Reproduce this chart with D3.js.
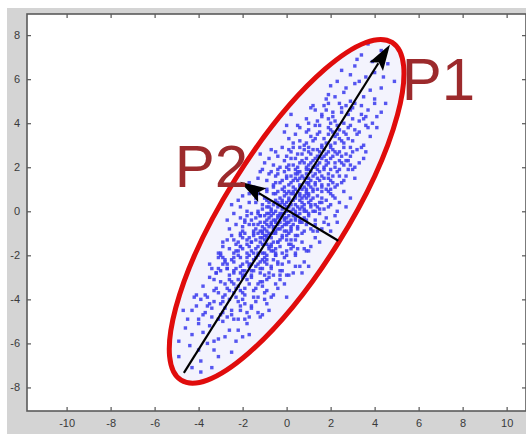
<!DOCTYPE html>
<html>
<head>
<meta charset="utf-8">
<script src="https://cdn.jsdelivr.net/npm/d3@7"></script>
<style>
  html, body { margin: 0; padding: 0; background: #fff; }
  svg { display: block; }
  .tick text { font-family: "Liberation Sans", Arial, sans-serif; font-size: 11px; fill: #3a3a3a; }
</style>
</head>
<body>
<svg id="chart" width="526" height="434"></svg>
<script>
// graduations des axes
var xTicks = [-10, -8, -6, -4, -2, 0, 2, 4, 6, 8, 10];
var yTicks = [-8, -6, -4, -2, 0, 2, 4, 6, 8];

// ellipse de confiance : centre, demi-axes, angle (degres)
var ellCenter = [0, 0];
var ellAxes = [9.05, 2.75];
var ellAngle = 58;

// composantes principales (depart -> pointe)
var arrows = [
  { name: 'P1', from: [-4.67, -7.34], to: [4.7, 7.57], label: [5.23, 5.05] },
  { name: 'P2', from: [2.35, -1.34], to: [-2.12, 1.34], label: [-5.08, 1.11] }
];

// nuage de points (par tranches de y)
var points = [
  // 7 < y < 8
  [3.7,7.6],[4.3,7.3],[3.4,7.1],
  // 6 < y < 7
  [2.5,6.4],[3.9,6.8],[4.4,6.1],[3.1,6.6],[2.9,6.2],[4.0,6.3],[4.6,6.7],[3.2,6.9],[3.6,6.1],
  // 5 < y < 6
  [2.0,5.7],[3.5,5.2],[4.9,5.9],[2.6,5.4],[3.1,5.8],[1.8,5.1],[3.8,5.5],[2.3,5.9],[4.3,5.6],[2.9,5.0],[3.3,5.9],[4.0,5.1],
  [1.9,5.3],[2.7,5.6],[2.2,5.2],
  // 4 < y < 5
  [1.3,4.6],[2.2,4.1],[3.4,4.8],[2.8,4.4],[1.9,4.9],[4.1,4.3],[2.5,4.7],[3.0,4.2],[1.6,4.3],[2.1,4.5],[3.7,4.6],
  [2.6,4.0],[0.9,4.2],[3.3,4.1],[2.4,4.9],[1.7,4.8],[4.5,4.9],[2.9,4.6],[1.1,4.7],[3.6,4.3],[2.0,4.0],[3.1,4.9],
  [0.2,4.4],[3.9,4.0],[1.4,4.1],[2.7,4.8],[4.3,4.5],[2.1,4.3],[3.4,4.4],[1.0,4.0],[1.8,4.6],[2.5,4.5],[3.0,4.7],
  [4.0,4.9],[1.6,4.4],[3.5,4.2],[1.2,4.8],[1.9,4.2],
  // 3 < y < 4
  [0.4,3.5],[1.2,3.2],[1.9,3.8],[2.6,3.1],[3.3,3.6],[1.5,3.9],[2.2,3.4],[0.8,3.0],[2.9,3.9],[1.7,3.3],[2.4,3.7],
  [3.8,3.4],[1.0,3.7],[2.0,3.0],[3.0,3.2],[1.4,3.5],[2.7,3.5],[0.1,3.3],[1.8,3.1],[2.3,3.9],[3.5,3.0],[1.1,3.4],
  [2.1,3.6],[4.1,3.8],[0.6,3.8],[1.6,3.0],[2.8,3.3],[1.3,3.9],[2.5,3.2],[3.1,3.7],[0.9,3.1],[1.9,3.5],[3.6,3.9],
  [2.2,3.1],[0.0,3.9],[0.5,3.9],[3.2,3.5],[1.5,3.6],[2.4,3.3],[0.9,3.6],[2.8,3.8],[-0.1,3.6],[3.7,3.8],[1.3,3.3],
  [0.6,3.2],[2.0,3.7],[2.3,3.5],[0.3,3.1],[2.6,3.6],
  // 2 < y < 3
  [1.4,2.5],[0.6,2.2],[2.1,2.8],[1.0,2.9],[1.8,2.1],[2.7,2.6],[0.2,2.7],[1.3,2.0],[2.4,2.3],[0.9,2.4],
  [1.6,2.9],[3.2,2.8],[-0.4,2.5],[1.1,2.6],[2.0,2.4],[0.5,2.0],[1.5,2.2],[2.9,2.1],[0.8,2.8],[1.9,2.7],
  [-0.1,2.3],[1.2,2.3],[2.2,2.0],[0.3,2.9],[1.7,2.5],[2.6,2.9],[0.7,2.6],[1.4,2.1],[3.5,2.4],[1.0,2.1],
  [2.3,2.6],[0.0,2.0],[1.6,2.4],[2.8,2.3],[0.4,2.4],[1.2,2.8],[2.0,2.9],[-0.7,2.8],[1.8,2.3],[0.9,2.0],
  [2.5,2.2],[1.5,2.7],[0.1,2.1],[3.0,2.7],[1.3,2.4],[2.1,2.5],[0.6,2.9],[1.7,2.0],[2.4,2.7],[1.1,2.2],
  [-1.0,2.2],[2.9,2.5],[3.3,2.2],[0.5,2.6],[1.9,2.2],[0.2,2.4],[2.2,2.7],[-0.3,2.0],[-0.8,2.4],[1.7,2.8],
  [0.1,2.8],[3.4,2.9],[1.5,2.5],[0.8,2.2],[2.6,2.1],[-0.5,2.7],[1.8,2.6],[2.9,2.9],[1.0,2.7],[0.3,2.1],
  [2.7,2.3],[1.2,2.0],[3.6,2.7],[0.0,2.5],[-0.2,2.9],[2.5,2.5],[0.7,2.3],[1.4,2.8],[-1.2,2.6],[3.1,2.0],
  [2.2,2.2],[-0.6,2.1],
  // 1 < y < 2
  [0.8,1.5],[0.1,1.2],[1.5,1.8],[-0.5,1.6],[1.1,1.1],[2.0,1.4],[0.4,1.9],[1.3,1.3],[-0.2,1.0],[0.9,1.7],
  [2.4,1.9],[0.6,1.2],[1.7,1.5],[-0.9,1.4],[0.2,1.6],[1.0,1.9],[2.2,1.1],[0.5,1.4],[1.4,1.0],[-0.4,1.9],
  [0.7,1.0],[1.9,1.7],[0.0,1.5],[1.2,1.6],[2.7,1.6],[0.3,1.1],[1.6,1.2],[-1.2,1.8],[0.9,1.3],[1.8,1.0],
  [0.4,1.7],[1.1,1.4],[-0.1,1.8],[2.1,1.6],[0.6,1.5],[1.4,1.9],[-0.6,1.1],[0.8,1.1],[1.6,1.6],[0.2,1.3],
  [2.5,1.3],[1.0,1.2],[-0.3,1.3],[0.5,1.8],[1.3,1.7],[3.0,1.9],[0.1,1.9],[1.9,1.2],[0.7,1.6],[-0.8,1.7],
  [1.2,1.0],[0.3,1.4],[2.3,1.8],[0.9,1.9],[1.5,1.4],[-0.1,1.1],[0.6,1.8],[1.7,1.9],[1.0,1.5],[0.4,1.0],
  [2.0,1.0],[-0.5,1.3],[0.0,1.6],[-0.6,1.2],[2.6,1.4],[-1.3,1.5],[3.1,1.5],[1.4,1.5],[2.8,1.9],[-1.5,1.1],
  [2.4,1.6],[1.1,1.8],[-0.2,1.4],[2.0,1.9],[-0.9,1.0],[1.3,1.2],[0.4,1.5],[2.1,1.3],[-1.1,1.9],[0.9,1.0],
  [-0.4,1.7],[2.3,1.2],[1.6,1.1],[-0.7,1.8],[0.6,1.1],[-1.7,1.3],[1.9,1.5],[0.5,1.7],[1.0,1.3],
  // 0 < y < 1
  [0.3,0.5],[-0.4,0.2],[1.0,0.8],[-1.0,0.6],[0.6,0.1],[1.5,0.4],[-0.1,0.9],[0.8,0.3],[-0.7,0.0],[0.4,0.7],
  [1.9,0.9],[0.1,0.2],[1.2,0.6],[-1.4,0.4],[-0.3,0.6],[0.5,0.9],[1.7,0.1],[0.0,0.4],[0.9,0.0],[-0.9,0.9],
  [0.2,0.0],[1.4,0.7],[-0.5,0.5],[0.7,0.6],[2.2,0.6],[-0.2,0.1],[1.1,0.2],[-1.7,0.8],[0.4,0.3],[1.3,0.0],
  [-0.1,0.7],[0.6,0.5],[-0.6,0.8],[1.6,0.6],[0.1,0.5],[0.9,0.9],[-1.1,0.1],[0.3,0.1],[1.1,0.5],[-0.3,0.3],
  [2.0,0.3],[0.5,0.2],[-0.8,0.4],[0.0,0.8],[0.8,0.7],[2.6,0.9],[-0.4,0.9],[1.3,0.3],[0.2,0.8],[-1.3,0.0],
  [0.7,0.2],[-0.2,0.4],[1.8,0.5],[0.4,0.0],[-0.6,0.3],[1.0,0.4],[0.1,0.6],[-0.9,0.2],[0.6,0.8],[1.5,0.1],
  [-0.1,0.3],[0.9,0.6],[-2.0,0.7],[0.3,0.9],[1.2,0.9],[-0.5,0.0],[0.8,0.1],[0.0,0.2],
  [-1.6,0.9],[0.2,0.3],[-2.1,0.2],[2.4,0.4],[0.6,0.7],[1.4,0.2],[-0.9,0.5],[2.7,0.2],[1.6,0.9],[-1.4,0.6],
  [1.2,0.0],[-0.5,0.8],[0.0,0.0],[-2.2,0.5],[0.7,0.4],[0.3,0.8],[-0.8,0.2],[2.1,0.7],[-1.8,0.0],[-0.2,0.5],
  [0.8,0.0],[-1.1,0.3],[1.9,0.2],[0.1,0.9],[2.9,0.6],[-1.3,0.8],[-0.4,0.4],[1.0,0.7],[-0.7,0.1],[2.3,0.0],
  [1.6,0.4],[0.4,0.6],[-2.5,0.3],[1.1,0.3],[2.0,0.8],[0.9,0.8],[-1.7,0.4],
  // -1 < y < 0
  [-0.3,-0.5],[0.5,-0.2],[-1.1,-0.7],[0.9,-0.6],[-0.6,-0.1],[-1.6,-0.4],[0.2,-0.9],[-0.8,-0.3],[0.6,-0.1],[-0.4,-0.8],
  [-2.0,-0.9],[0.0,-0.3],[-1.2,-0.5],[1.3,-0.4],[0.3,-0.6],[-0.5,-0.9],[-1.8,-0.2],[-0.1,-0.4],[-0.9,-0.1],[0.8,-0.9],
  [-0.2,-0.1],[-1.4,-0.8],[0.4,-0.4],[-0.7,-0.6],[-2.3,-0.6],[0.1,-0.2],[-1.0,-0.2],[1.6,-0.8],[-0.4,-0.3],[-1.3,-0.1],
  [0.2,-0.7],[-0.6,-0.4],[0.7,-0.5],[-0.1,-0.9],[-0.9,-0.9],[-1.7,-0.6],[1.0,-0.1],[-0.3,-0.8],[-1.2,-0.2],[0.3,-0.2],
  [-2.1,-0.3],[-0.5,-0.5],[0.5,-0.8],[-0.8,-0.7],[0.0,-0.6],[-1.5,-0.9],[1.9,-0.6],[-0.2,-0.7],[-1.0,-0.5],[0.4,-0.1],
  [-0.7,-0.2],[-1.4,-0.3],[0.8,-0.3],[-0.4,-0.6],[0.1,-0.5],[-1.1,-0.9],[-2.6,-0.8],[-0.6,-0.8],[0.6,-0.4],[-0.1,-0.1],
  [-0.9,-0.4],[1.2,-0.9],[-1.9,-0.5],[-0.3,-0.2],[0.2,-0.4],[-0.8,-0.1],[-1.3,-0.6],[0.0,-0.9],
  [1.8,-0.3],[-0.7,-0.5],[1.1,-0.8],[-1.2,-0.2],[2.0,-0.9],[-0.3,-0.1],[-1.9,-0.4],[0.9,-0.4],[-0.1,-0.6],[-2.4,-0.1],
  [0.4,-0.3],[2.2,-0.2],[-1.0,-0.8],[1.7,-0.5],[-0.4,-0.2],[2.3,-0.5],[-1.5,-0.6],[1.0,-0.2],[0.5,-0.7],[1.5,-0.1],
  [-2.7,-0.4],[-0.6,-0.7],[1.3,-0.6],[0.6,-0.5],[-2.0,-0.7],[-1.6,-0.1],[0.2,-0.8],[-0.9,-0.6],[-0.1,-0.3],[-1.2,-0.9],
  [-0.5,-0.4],[1.4,-0.9],[0.0,-0.5],
  // -2 < y < -1
  [-0.9,-1.5],[-0.2,-1.2],[-1.6,-1.8],[0.3,-1.6],[-1.0,-1.1],[-2.2,-1.4],[-0.5,-1.9],[-1.4,-1.3],[0.1,-1.0],[-0.8,-1.7],
  [-2.4,-1.9],[-0.7,-1.2],[-1.8,-1.5],[0.7,-1.4],[-0.3,-1.6],[-1.1,-1.9],[-2.1,-1.1],[-0.4,-1.4],[-1.5,-1.0],[0.4,-1.9],
  [-0.6,-1.0],[-2.0,-1.7],[0.1,-1.5],[-1.3,-1.6],[-2.9,-1.6],[-0.2,-1.1],[-1.7,-1.2],[1.0,-1.8],[-1.0,-1.3],[-1.9,-1.0],
  [-0.5,-1.7],[-1.2,-1.4],[0.0,-1.8],[-2.1,-1.6],[-0.7,-1.5],[-1.5,-1.9],[0.5,-1.1],[-0.9,-1.1],[-1.7,-1.6],[-0.3,-1.3],
  [-2.7,-1.3],[-1.1,-1.2],[0.2,-1.3],[-0.6,-1.8],[-1.4,-1.7],[-3.1,-1.9],[-0.2,-1.9],[-2.0,-1.2],[-0.8,-1.6],[0.8,-1.7],
  [-1.3,-1.0],[-0.4,-1.4],[-2.3,-1.8],[-1.0,-1.9],[-1.6,-1.4],[0.0,-1.1],[-0.7,-1.8],[-1.8,-1.9],[-1.1,-1.5],[-0.5,-1.0],
  [-2.1,-1.0],[0.4,-1.3],
  [0.2,-1.7],[0.4,-1.1],[-2.4,-1.3],[1.1,-1.6],[-2.9,-1.4],[-1.6,-1.4],[-0.9,-1.2],[1.3,-1.2],[-2.6,-1.7],[-1.3,-1.9],
  [0.0,-1.3],[-2.2,-1.8],[0.7,-1.0],[-1.5,-1.1],[-0.6,-1.4],[-2.3,-1.5],[0.9,-1.8],[-1.1,-1.0],[0.2,-1.5],[-2.5,-1.1],
  [-1.8,-1.3],[0.5,-1.7],[-0.8,-1.0],[1.5,-1.4],[-2.1,-1.6],[-3.0,-1.9],[-0.7,-1.6],[-1.2,-1.2],
  // -3 < y < -2
  [-1.4,-2.5],[-0.6,-2.2],[-2.1,-2.8],[-1.0,-2.9],[-1.8,-2.1],[-2.7,-2.6],[-0.2,-2.7],[-1.3,-2.0],[-2.4,-2.3],[-0.9,-2.4],
  [-1.6,-2.9],[-3.2,-2.8],[0.4,-2.5],[-1.1,-2.6],[-2.0,-2.4],[-0.5,-2.0],[-1.5,-2.2],[-2.9,-2.1],[-0.8,-2.8],[-1.9,-2.7],
  [0.1,-2.3],[-1.2,-2.3],[-2.2,-2.0],[-0.3,-2.9],[-1.7,-2.5],[-2.6,-2.9],[-0.7,-2.6],[-1.4,-2.1],[-3.5,-2.4],[-1.0,-2.1],
  [-2.3,-2.6],[0.0,-2.0],[-1.6,-2.4],[-2.8,-2.3],[-0.4,-2.4],[-1.2,-2.8],[-2.0,-2.9],[0.7,-2.8],[-1.8,-2.3],[-0.9,-2.0],
  [-2.5,-2.2],[-1.5,-2.7],[-0.1,-2.1],[-3.0,-2.7],[-1.3,-2.4],[-2.1,-2.5],[-0.6,-2.9],[-1.7,-2.0],[-2.4,-2.7],[-1.1,-2.2],
  [0.8,-2.3],[-2.7,-2.6],[-3.1,-2.1],[-0.7,-2.5],[-2.1,-2.1],[-0.4,-2.3],[-2.4,-2.8],[0.1,-2.9],[-3.0,-2.0],[0.6,-2.5],
  [-1.9,-2.9],[-0.3,-2.7],[-3.2,-2.8],[-1.7,-2.4],[-1.0,-2.3],[-2.8,-2.2],[0.3,-2.8],[-2.0,-2.7],[-3.1,-2.6],[-1.2,-2.6],
  [-0.5,-2.0],[-2.9,-2.4],[-1.4,-2.1],[-3.4,-2.6],[-0.2,-2.4],[0.0,-2.9],[-2.7,-2.4],[-0.9,-2.2],[-1.6,-2.7],[1.0,-2.5],
  [-2.4,-2.1],[0.4,-2.0],
  // -4 < y < -3
  [-0.4,-3.5],[-1.2,-3.2],[-1.9,-3.8],[-2.6,-3.1],[-3.3,-3.6],[-1.5,-3.9],[-2.2,-3.4],[-0.8,-3.0],[-2.9,-3.9],[-1.7,-3.3],
  [-2.4,-3.7],[-3.8,-3.4],[-1.0,-3.7],[-2.0,-3.0],[-3.0,-3.2],[-1.4,-3.5],[-2.7,-3.5],[-0.1,-3.3],[-1.8,-3.1],[-2.3,-3.9],
  [-3.5,-3.0],[-1.1,-3.4],[-2.1,-3.6],[-4.1,-3.8],[-0.6,-3.8],[-1.6,-3.0],[-2.8,-3.3],[-1.3,-3.9],[-2.5,-3.2],[-3.1,-3.7],
  [-0.9,-3.1],[-1.9,-3.5],[-3.6,-3.9],[-2.2,-3.1],[0.0,-3.9],
  [-0.5,-3.3],[-0.7,-3.9],[-3.2,-3.5],[-1.5,-3.6],[-2.4,-3.3],[-0.9,-3.6],[-2.8,-3.8],[-3.7,-3.8],[-1.3,-3.3],[-0.3,-3.1],
  [-2.0,-3.7],[-2.3,-3.5],[-2.6,-3.6],[-4.2,-3.9],[-3.3,-3.1],[-1.1,-3.2],
  // -5 < y < -4
  [-1.3,-4.6],[-2.2,-4.1],[-3.4,-4.8],[-2.8,-4.4],[-1.9,-4.9],[-4.1,-4.3],[-2.5,-4.7],[-3.0,-4.2],[-1.6,-4.3],[-2.1,-4.5],
  [-3.7,-4.6],[-2.6,-4.0],[-0.9,-4.2],[-3.3,-4.1],[-2.4,-4.9],[-1.7,-4.8],[-4.5,-4.9],[-2.9,-4.6],[-1.1,-4.7],[-3.6,-4.3],
  [-2.0,-4.0],[-3.1,-4.9],[-4.7,-4.5],
  [-3.9,-4.0],[-1.4,-4.1],[-2.7,-4.8],[-4.3,-4.5],[-2.1,-4.3],[-3.4,-4.4],[-1.0,-4.0],[-1.8,-4.6],[-2.5,-4.5],[-3.0,-4.7],
  [-4.0,-4.9],[-1.6,-4.4],[-3.5,-4.2],[-1.2,-4.8],[-1.9,-4.2],[-0.8,-4.5],[-2.9,-4.1],[-3.8,-4.7],[-2.2,-4.9],
  // -6 < y < -5
  [-2.0,-5.7],[-3.5,-5.2],[-4.9,-5.9],[-2.6,-5.4],[-3.1,-5.8],[-1.8,-5.1],[-3.8,-5.5],[-2.3,-5.9],[-4.3,-5.6],[-2.9,-5.0],
  [-3.3,-5.9],[-4.0,-5.1],[-2.2,-5.4],[-3.6,-6.0],[-2.8,-5.7],[-4.6,-5.3],[-1.7,-5.6],
  // -7 < y < -6
  [-2.5,-6.4],[-3.9,-6.8],[-4.4,-6.1],[-3.1,-6.6],[-4.9,-6.6],[-4.0,-6.3],[-3.3,-6.3],
  // -8 < y < -7
  [-3.9,-7.3],[-4.3,-7.1],[-3.4,-7.1]
];

/////////////////////// MISE EN PAGE ///////////////////////
var svg = d3.select('#chart');
var plot = { left: 27, top: 14, right: 526, bottom: 411 };

var x = d3.scaleLinear().domain([-11.8, 10.88]).range([plot.left, plot.right]);
var y = d3.scaleLinear().domain([-9.07, 8.96]).range([plot.bottom, plot.top]);

// fond gris facon figure matlab
svg.append('rect')
  .attr('x', 7).attr('y', 8)
  .attr('width', 519).attr('height', 426)
  .attr('fill', '#d4d4d4');

svg.append('rect')
  .attr('x', plot.left).attr('y', plot.top)
  .attr('width', plot.right - plot.left).attr('height', plot.bottom - plot.top)
  .attr('fill', '#ffffff');

// axes (graduations vers l'interieur, sur les 4 cotes)
var fmt = function(d) { return String(d); };
var axes = [
  { ax: d3.axisBottom(x).tickValues(xTicks).tickFormat(fmt).tickPadding(8), t: 'translate(0,' + plot.bottom + ')' },
  { ax: d3.axisTop(x).tickValues(xTicks).tickFormat(''), t: 'translate(0,' + plot.top + ')' },
  { ax: d3.axisLeft(y).tickValues(yTicks).tickFormat(fmt).tickPadding(7), t: 'translate(' + plot.left + ',0)' },
  { ax: d3.axisRight(y).tickValues(yTicks).tickFormat(''), t: 'translate(' + plot.right + ',0)' }
];
axes.forEach(function(a) {
  var g = svg.append('g').attr('transform', a.t)
    .call(a.ax.tickSizeInner(-4).tickSizeOuter(0));
  g.select('.domain').remove();
  g.selectAll('.tick line').attr('stroke', '#555').attr('stroke-width', 1.2);
});

// cadre
svg.append('rect')
  .attr('x', plot.left).attr('y', plot.top)
  .attr('width', plot.right - plot.left).attr('height', plot.bottom - plot.top)
  .attr('fill', 'none').attr('stroke', '#5a5a5a').attr('stroke-width', 1.6);

// ellipse : on passe par des pixels (echelles quasi isotropes)
var kx = x(1) - x(0), ky = y(0) - y(1);
var ellTransform = 'translate(' + x(ellCenter[0]) + ',' + y(ellCenter[1]) + ') rotate(' + (-ellAngle) + ')';

svg.append('ellipse')
  .attr('rx', ellAxes[0] * kx).attr('ry', ellAxes[1] * ky)
  .attr('transform', ellTransform)
  .attr('fill', '#f3f3fd');

// nuage
svg.append('g').selectAll('rect')
  .data(points)
  .enter()
  .append('rect')
  .attr('x', function(d) { return x(d[0]) - 1.7; })
  .attr('y', function(d) { return y(d[1]) - 1.7; })
  .attr('width', 3.4).attr('height', 3.4)
  .attr('fill', '#3f3fee')
  .attr('opacity', 0.88);

// contour rouge
svg.append('ellipse')
  .attr('rx', ellAxes[0] * kx).attr('ry', ellAxes[1] * ky)
  .attr('transform', ellTransform)
  .attr('fill', 'none')
  .attr('stroke', '#e00c0c')
  .attr('stroke-width', 5);

// fleches P1 / P2
var headLen = 26, headHalf = 8;
arrows.forEach(function(a) {
  var x0 = x(a.from[0]), y0 = y(a.from[1]);
  var x1 = x(a.to[0]), y1 = y(a.to[1]);
  var dx = x1 - x0, dy = y1 - y0, len = Math.sqrt(dx * dx + dy * dy);
  var ux = dx / len, uy = dy / len;
  var bx = x1 - ux * headLen, by = y1 - uy * headLen;
  svg.append('line')
    .attr('x1', x0).attr('y1', y0)
    .attr('x2', bx + ux * 4).attr('y2', by + uy * 4)
    .attr('stroke', '#000').attr('stroke-width', 2.2);
  svg.append('path')
    .attr('d', 'M' + x1 + ',' + y1 +
      'L' + (bx - uy * headHalf) + ',' + (by + ux * headHalf) +
      'L' + (bx + ux * 5) + ',' + (by + uy * 5) +
      'L' + (bx + uy * headHalf) + ',' + (by - ux * headHalf) + 'Z')
    .attr('fill', '#000');
  svg.append('text')
    .attr('x', x(a.label[0])).attr('y', y(a.label[1]))
    .attr('font-family', '"Liberation Sans", Arial, sans-serif')
    .attr('font-size', 60)
    .attr('fill', '#9c2a2c')
    .text(a.name);
});
</script>
</body>
</html>
